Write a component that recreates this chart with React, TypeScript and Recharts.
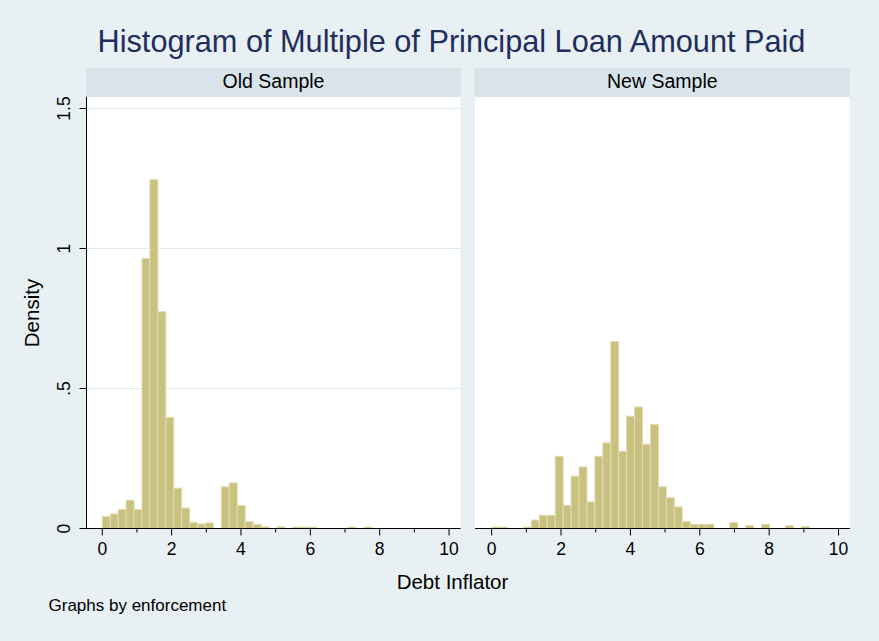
import React from 'react';
import { BarChart, Bar, XAxis, YAxis, CartesianGrid } from 'recharts';

// ---- data ----
const binCenters = [
  0.114, 0.343, 0.572, 0.801, 1.030, 1.258, 1.487, 1.716, 1.945, 2.174,
  2.403, 2.632, 2.860, 3.089, 3.318, 3.547, 3.776, 4.005, 4.233, 4.462,
  4.691, 4.920, 5.149, 5.378, 5.606, 5.835, 6.064, 6.293, 6.522, 6.751,
  6.979, 7.208, 7.437, 7.666, 7.895, 8.124, 8.353, 8.582, 8.810, 9.039,
];
const oldSampleDensity = [
  0.043, 0.052, 0.068, 0.101, 0.068, 0.964, 1.246, 0.774, 0.397, 0.144,
  0.073, 0.022, 0.016, 0.020, 0.000, 0.149, 0.163, 0.082, 0.025, 0.015,
  0.006, 0.000, 0.006, 0.000, 0.005, 0.005, 0.005, 0.000, 0.000, 0.000,
  0.000, 0.005, 0.000, 0.005, 0.000, 0.000, 0.000, 0.000, 0.000, 0.000,
];
const newSampleDensity = [
  0.005, 0.005, 0.000, 0.000, 0.005, 0.030, 0.047, 0.047, 0.258, 0.082,
  0.187, 0.220, 0.095, 0.258, 0.306, 0.668, 0.276, 0.401, 0.434, 0.301,
  0.372, 0.149, 0.110, 0.077, 0.025, 0.015, 0.015, 0.015, 0.000, 0.000,
  0.021, 0.000, 0.011, 0.000, 0.015, 0.000, 0.000, 0.011, 0.000, 0.007,
];
const xTicks = [0, 1, 2, 3, 4, 5, 6, 7, 8, 9, 10];
const xTickLabels = ['0', '', '2', '', '4', '', '6', '', '8', '', '10'];
const yTicks = [0, 0.5, 1, 1.5];
const yTickLabels = ['0', '.5', '1', '1.5'];
const panelTitles = ['Old Sample', 'New Sample'];
const chartTitle = 'Histogram of Multiple of Principal Loan Amount Paid';
const xAxisTitle = 'Debt Inflator';
const yAxisTitle = 'Density';
const noteText = 'Graphs by enforcement';

const oldData = binCenters.map((x, i) => ({ x, density: oldSampleDensity[i] }));
const newData = binCenters.map((x, i) => ({ x, density: newSampleDensity[i] }));

// ---- styles ----
const FONT = '"Liberation Sans", Arial, Helvetica, sans-serif';
const BG = '#e8f0f3';
const STRIP = '#d8e4ea';
const GRID = '#e1ebef';
const BAR_FILL = '#c9c180';
const BAR_STROKE = '#e2dcb2';
const TITLE_COLOR = '#1f2e5c';
const Y_MAX = 1.5429;

const XTick = (props: any) => {
  const { x, y, payload } = props;
  const idx = xTicks.indexOf(payload.value);
  const label = idx >= 0 ? xTickLabels[idx] : '';
  const major = label !== '';
  return (
    <g>
      <line x1={x} x2={x} y1={y} y2={y + (major ? 7 : 4)} stroke="#000" strokeWidth={1} />
      {major && (
        <text x={x} y={y + 26.5} textAnchor="middle" fontSize={17.5} fontFamily={FONT} fill="#000">
          {label}
        </text>
      )}
    </g>
  );
};

const YTick = (props: any) => {
  const { x, y, payload } = props;
  const idx = yTicks.indexOf(payload.value);
  return (
    <text
      x={x}
      y={y}
      transform={`rotate(-90 ${x} ${y})`}
      textAnchor="middle"
      fontSize={17.5}
      fontFamily={FONT}
      fill="#000"
    >
      {idx >= 0 ? yTickLabels[idx] : ''}
    </text>
  );
};

type PanelProps = {
  data: { x: number; density: number }[];
  left: number;
  width: number;
  domain: [number, number];
  showY: boolean;
  margin: { top: number; left: number; right: number; bottom: number };
};

function Panel({ data, left, width, domain, showY, margin }: PanelProps) {
  return (
    <div style={{ position: 'absolute', left, top: 0 }}>
      <BarChart width={width} height={600} data={data} margin={margin} barCategoryGap={0} barGap={0}>
        <CartesianGrid vertical={false} stroke={GRID} strokeWidth={1} fill="#ffffff" />
        <XAxis
          dataKey="x"
          type="number"
          domain={domain}
          allowDataOverflow
          ticks={xTicks}
          interval={0}
          tick={<XTick />}
          tickLine={false}
          tickSize={0}
          tickMargin={0}
          height={40}
          axisLine={{ stroke: '#000', strokeWidth: 1 }}
        />
        {showY ? (
          <YAxis
            type="number"
            domain={[0, Y_MAX]}
            allowDataOverflow
            ticks={yTicks}
            interval={0}
            width={60}
            tickSize={7}
            tickMargin={9.5}
            tick={<YTick />}
            tickLine={{ stroke: '#000', strokeWidth: 1 }}
            axisLine={{ stroke: '#000', strokeWidth: 1 }}
          />
        ) : (
          <YAxis
            type="number"
            domain={[0, Y_MAX]}
            allowDataOverflow
            ticks={yTicks}
            interval={0}
            width={0}
            tick={false}
            tickLine={false}
            axisLine={false}
          />
        )}
        <Bar
          dataKey="density"
          fill={BAR_FILL}
          stroke={BAR_STROKE}
          strokeWidth={1}
          isAnimationActive={false}
        />
      </BarChart>
    </div>
  );
}

export default function App() {
  return (
    <div
      style={{
        position: 'absolute',
        left: 0,
        top: 0,
        width: 879,
        height: 641,
        background: BG,
        overflow: 'hidden',
        fontFamily: FONT,
      }}
    >
      <Panel
        data={oldData}
        left={0}
        width={470}
        domain={[-0.455, 10.33]}
        showY
        margin={{ top: 96.5, left: 26.5, right: 9.5, bottom: 31.5 }}
      />
      <Panel
        data={newData}
        left={470}
        width={400}
        domain={[-0.48, 10.33]}
        showY={false}
        margin={{ top: 96.5, left: 5, right: 20, bottom: 31.5 }}
      />
      <svg
        width={879}
        height={641}
        style={{ position: 'absolute', left: 0, top: 0, pointerEvents: 'none' }}
      >
        <text x={451.5} y={51.7} textAnchor="middle" fontSize={30.7} fontFamily={FONT} fill={TITLE_COLOR}>
          {chartTitle}
        </text>
        <rect x={86} y={68} width={375} height={28.5} fill={STRIP} />
        <rect x={474.5} y={68} width={375.5} height={28.5} fill={STRIP} />
        <text x={273.5} y={88.3} textAnchor="middle" fontSize={19.5} fontFamily={FONT} fill="#000">
          {panelTitles[0]}
        </text>
        <text x={662.3} y={88.3} textAnchor="middle" fontSize={19.5} fontFamily={FONT} fill="#000">
          {panelTitles[1]}
        </text>
        <text
          x={39}
          y={313}
          transform="rotate(-90 39 313)"
          textAnchor="middle"
          fontSize={20.5}
          fontFamily={FONT}
          fill="#000"
        >
          {yAxisTitle}
        </text>
        <text x={452.5} y={589.3} textAnchor="middle" fontSize={20.5} fontFamily={FONT} fill="#000">
          {xAxisTitle}
        </text>
        <text x={48.5} y={611} fontSize={17} fontFamily={FONT} fill="#000">
          {noteText}
        </text>
      </svg>
    </div>
  );
}
